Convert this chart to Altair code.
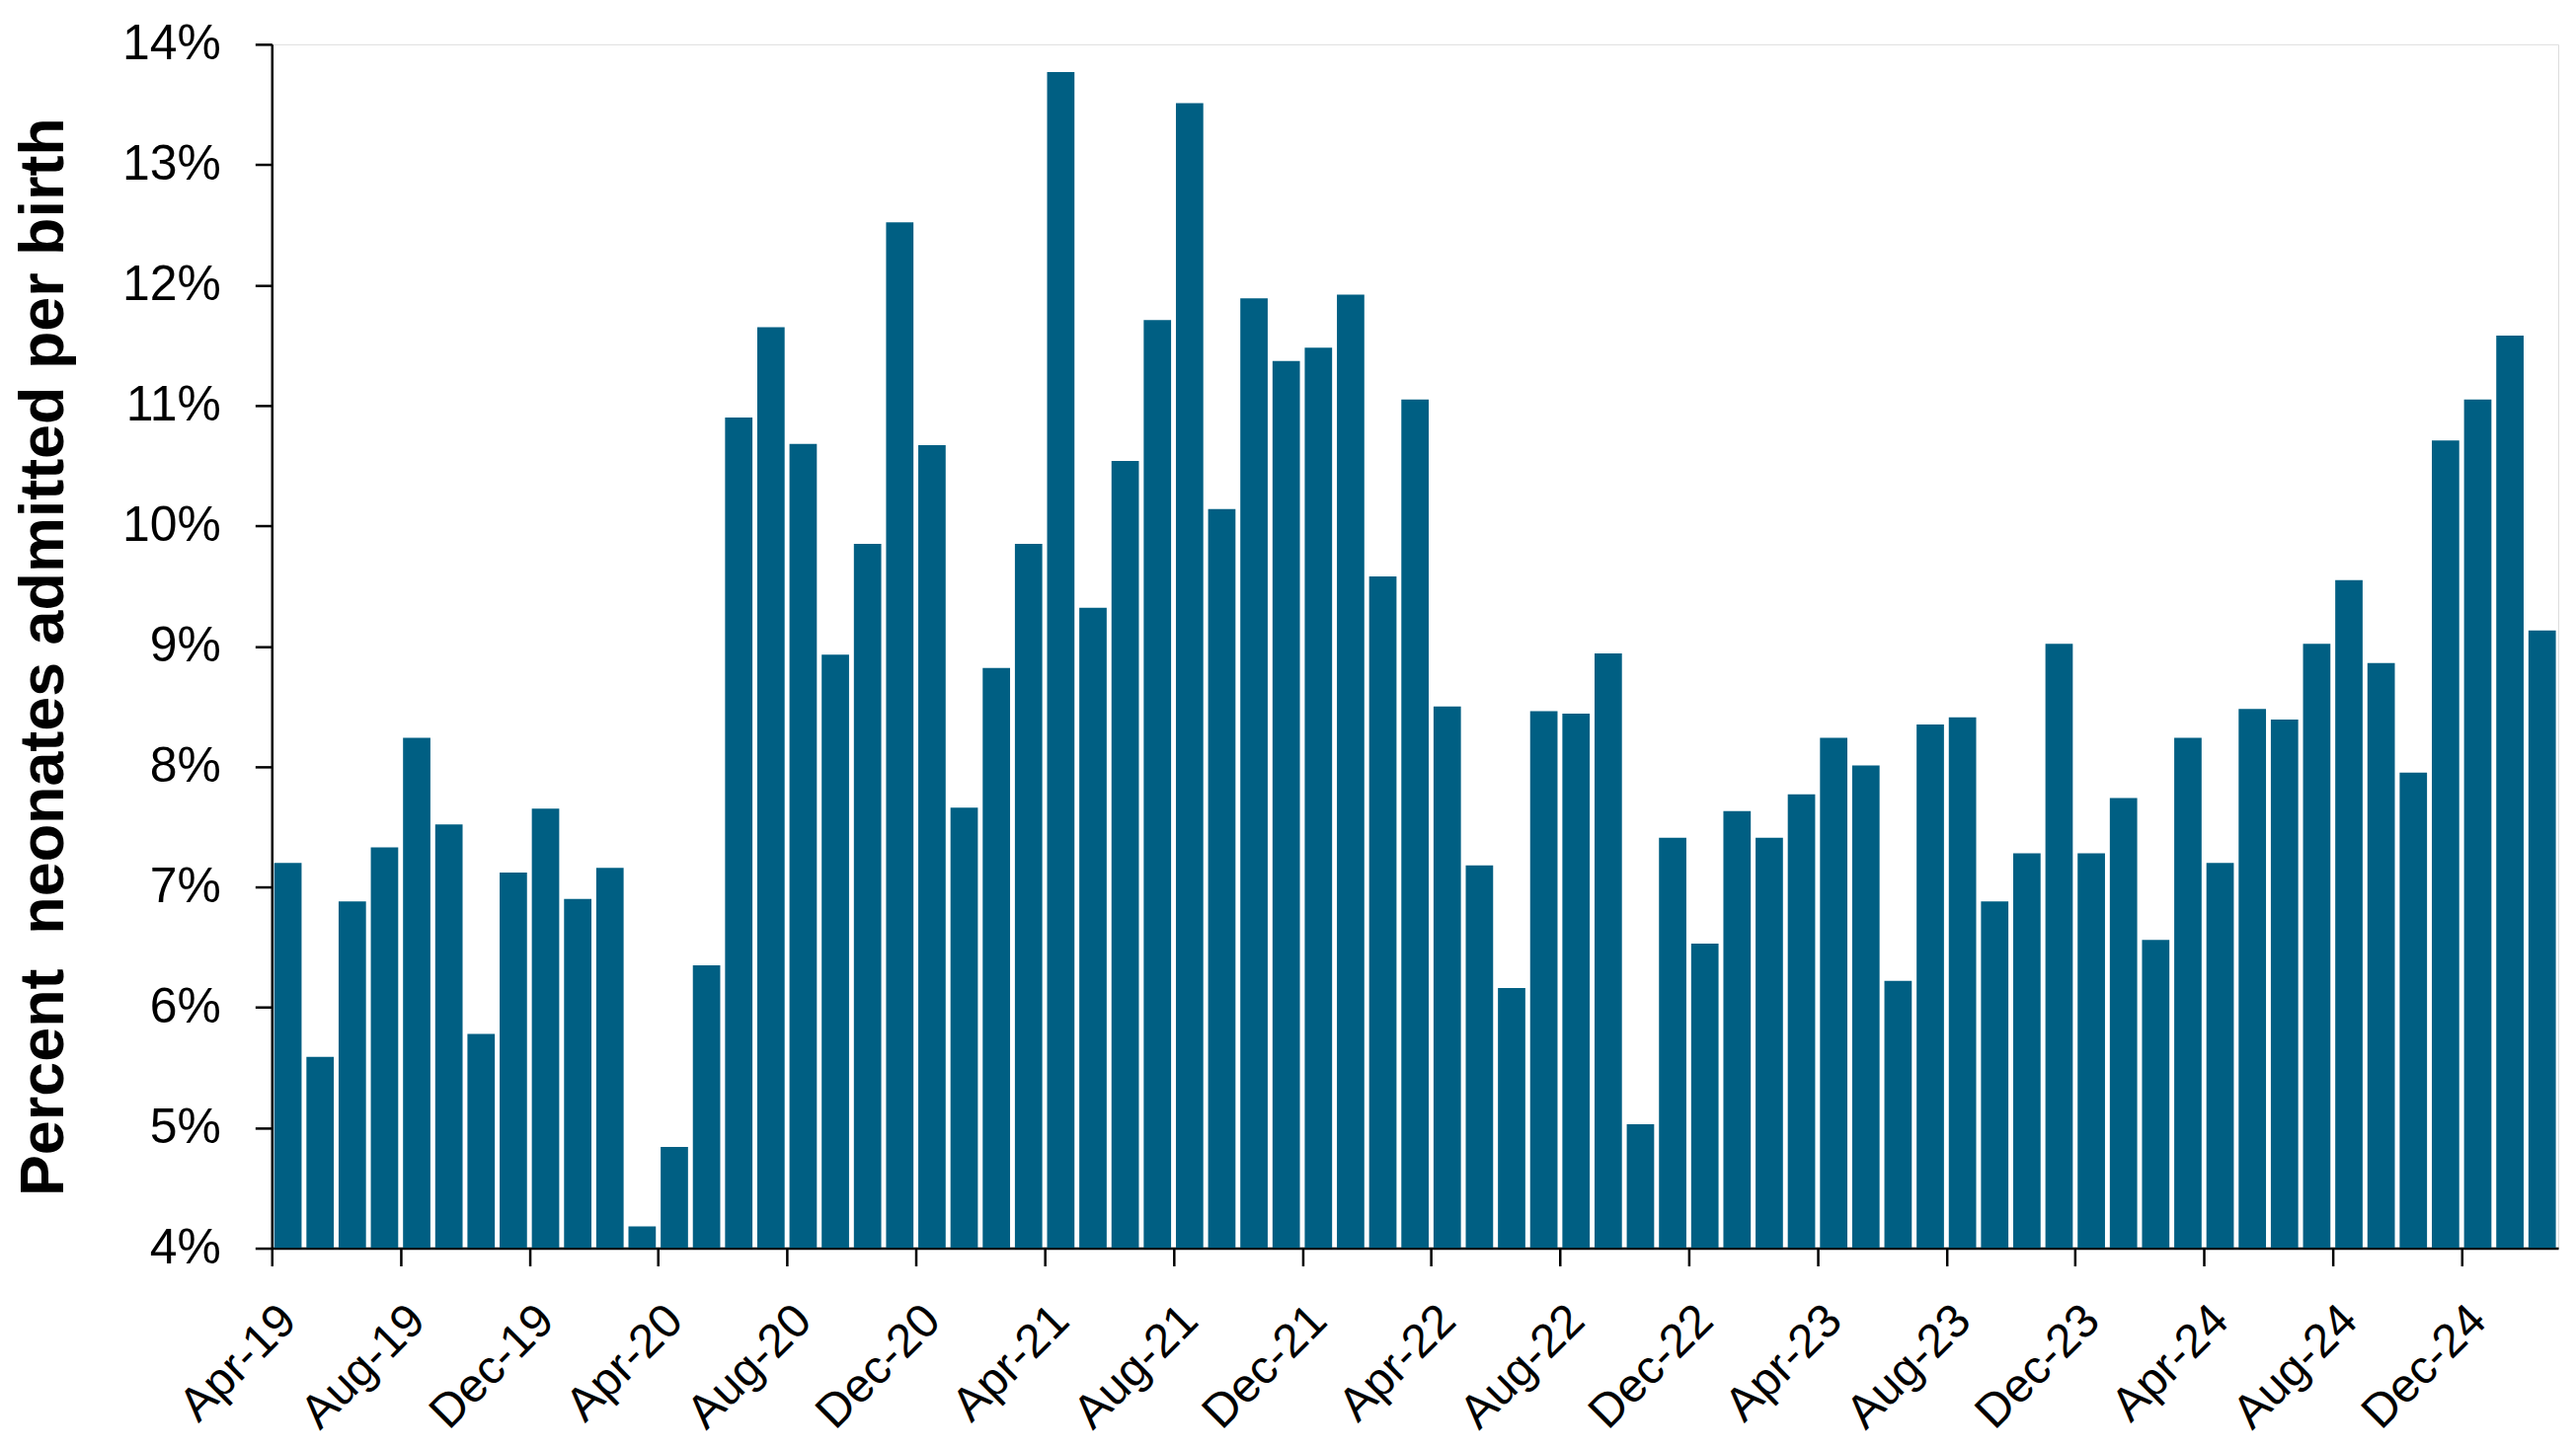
import altair as alt
import pandas as pd

month_names = ["Jan", "Feb", "Mar", "Apr", "May", "Jun",
               "Jul", "Aug", "Sep", "Oct", "Nov", "Dec"]
# Apr-19 .. Feb-25 (71 months)
months = [f"{month_names[(3 + i) % 12]}-{19 + (3 + i) // 12}" for i in range(71)]

values = [
    7.20, 5.59, 6.88, 7.33, 8.24, 7.52, 5.78, 7.12, 7.65, 6.90, 7.16, 4.18,
    4.84, 6.35, 10.90, 11.65, 10.68, 8.93, 9.85, 12.52, 10.67, 7.66, 8.82, 9.85,
    13.77, 9.32, 10.54, 11.71, 13.51, 10.14, 11.89, 11.37, 11.48, 11.92, 9.58, 11.05,
    8.50, 7.18, 6.16, 8.46, 8.44, 8.94, 5.03, 7.41, 6.53, 7.63, 7.41, 7.77,
    8.24, 8.01, 6.22, 8.35, 8.41, 6.88, 7.28, 9.02, 7.28, 7.74, 6.56, 8.24,
    7.20, 8.48, 8.39, 9.02, 9.55, 8.86, 7.95, 10.71, 11.05, 11.58, 9.13,
]

tick_labels = ["Apr-19", "Aug-19", "Dec-19", "Apr-20", "Aug-20", "Dec-20",
               "Apr-21", "Aug-21", "Dec-21", "Apr-22", "Aug-22", "Dec-22",
               "Apr-23", "Aug-23", "Dec-23", "Apr-24", "Aug-24", "Dec-24"]
tick_positions = [months.index(t) for t in tick_labels]

y_ticks = [4, 5, 6, 7, 8, 9, 10, 11, 12, 13, 14]

df = pd.DataFrame({"idx": list(range(len(months))), "month": months, "value": values})

FONT = "Liberation Sans"
label_array = "[" + ",".join(f"'{m}'" for m in months) + "]"

chart = alt.Chart(df).transform_calculate(
    x_start="datum.idx + 0.075",
    x_end="datum.idx + 0.925",
).mark_bar(color="#005F83", clip=True).encode(
    x=alt.X(
        "x_start:Q",
        scale=alt.Scale(domain=[0, len(months)], nice=False, zero=False),
        axis=alt.Axis(
            values=tick_positions, title=None, grid=False,
            labelExpr=label_array + "[datum.value]",
            labelAngle=-45, labelAlign="right", labelBaseline="top",
            labelFont=FONT, labelFontSize=48, labelColor="black",
            labelPadding=31, labelOffset=0,
            labelOverlap=False, labelFlush=False, labelBound=False,
            tickSize=18, tickWidth=2.5, tickColor="black",
            domainColor="black", domainWidth=2.5,
        ),
    ),
    x2="x_end:Q",
    y=alt.Y(
        "value:Q",
        scale=alt.Scale(domain=[4, 14], zero=False, nice=False),
        axis=alt.Axis(
            values=y_ticks, labelExpr="datum.value + '%'", grid=False,
            labelFont=FONT, labelFontSize=50, labelColor="black",
            labelPadding=35,
            tickSize=17, tickWidth=2.5, tickColor="black",
            domainColor="black", domainWidth=2.5,
            title="Percent\u00a0 neonates admitted per birth",
            titleFont=FONT, titleFontSize=63, titleFontWeight="bold",
            titleColor="black", titleAngle=270, titleAlign="center",
            titleBaseline="alphabetic", titleX=-212, titleY=622,
        ),
    ),
    y2=alt.datum(4),
).properties(
    width=2322, height=1223,
    padding={"left": 268, "top": 35, "right": 10, "bottom": 192},
    autosize=alt.AutoSizeParams(type="none"),
).configure_view(stroke=None).configure(background="white")

chart.save("out.html", embed_options={"renderer": "svg", "actions": False})
